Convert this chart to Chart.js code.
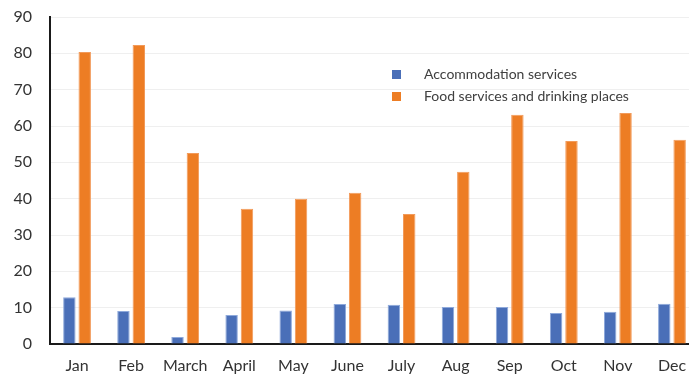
<!DOCTYPE html>
<html>
<head>
<meta charset="utf-8">
<script src="https://cdn.jsdelivr.net/npm/chart.js@4/dist/chart.umd.min.js"></script>
<style>
  html, body { margin: 0; padding: 0; background: #fff; overflow: hidden; width: 689px; height: 376px; }
  #wrap { position: absolute; left: 0; top: 0; width: 699px; height: 376px; }
</style>
</head>
<body>
<div id="wrap"><canvas id="chart"></canvas></div>
<script>
// Monthly values for the two service categories
const months = ['Jan', 'Feb', 'March', 'April', 'May', 'June', 'July', 'Aug', 'Sep', 'Oct', 'Nov', 'Dec'];
const accommodation = [12.9, 9.1, 1.9, 8.0, 9.2, 11.0, 10.8, 10.2, 10.2, 8.5, 8.9, 11.1];
const foodServices = [80.4, 82.3, 52.6, 37.2, 40.0, 41.6, 35.8, 47.4, 63.1, 55.9, 63.6, 56.2];
const yTicks = [0, 10, 20, 30, 40, 50, 60, 70, 80, 90];

const FONT = 'Lato, "Open Sans", sans-serif';

// Legend drawn inside the plot area, top right
const innerLegend = {
  id: 'innerLegend',
  afterDraw(chart) {
    const ctx = chart.ctx;
    ctx.save();
    ctx.font = '14px ' + FONT;
    ctx.textBaseline = 'middle';
    ctx.textAlign = 'left';
    chart.data.datasets.forEach((ds, i) => {
      const y = 74 + i * 22;
      ctx.fillStyle = ds.backgroundColor;
      ctx.fillRect(392, y - 4, 9, 9);
      ctx.fillStyle = '#404040';
      ctx.fillText(ds.label, 424, y);
    });
    ctx.restore();
  }
};

new Chart(document.getElementById('chart'), {
  type: 'bar',
  data: {
    labels: months,
    datasets: [
      {
        label: 'Accommodation services',
        data: accommodation,
        backgroundColor: '#4a6fb8',
        borderColor: '#8ea9db',
        borderWidth: 1,
        categoryPercentage: 0.568,
        barPercentage: 0.81
      },
      {
        label: 'Food services and drinking places',
        data: foodServices,
        backgroundColor: '#ed7d24',
        borderColor: '#f29a5a',
        borderWidth: 1,
        categoryPercentage: 0.568,
        barPercentage: 0.81
      }
    ]
  },
  options: {
    responsive: true,
    maintainAspectRatio: false,
    animation: false,
    devicePixelRatio: 1,
    layout: { padding: { top: 17, right: 0, left: 0, bottom: 0 } },
    plugins: {
      legend: { display: false },
      title: { display: false },
      tooltip: { enabled: false }
    },
    scales: {
      x: {
        offset: true,
        grid: { display: false, drawTicks: false },
        border: { display: true, color: '#1a1a1a', width: 2 },
        ticks: {
          color: '#333',
          font: { family: FONT, size: 16 },
          padding: 12,
          maxRotation: 0,
          autoSkip: false
        },
        afterFit(scale) {
          scale.height = 32;
          scale.paddingLeft = 0;
          scale.paddingRight = 0;
        }
      },
      y: {
        min: 0,
        max: 90,
        afterBuildTicks(scale) { scale.ticks = yTicks.map(v => ({ value: v })); },
        grid: { color: '#efefef', lineWidth: 1, drawTicks: false },
        border: { display: true, color: '#1a1a1a', width: 2 },
        ticks: {
          color: '#333',
          font: { family: FONT, size: 16 },
          padding: 18
        },
        afterFit(scale) {
          scale.width = 50;
          scale.paddingTop = 0;
          scale.paddingBottom = 0;
        }
      }
    }
  },
  plugins: [innerLegend]
});
</script>
</body>
</html>
